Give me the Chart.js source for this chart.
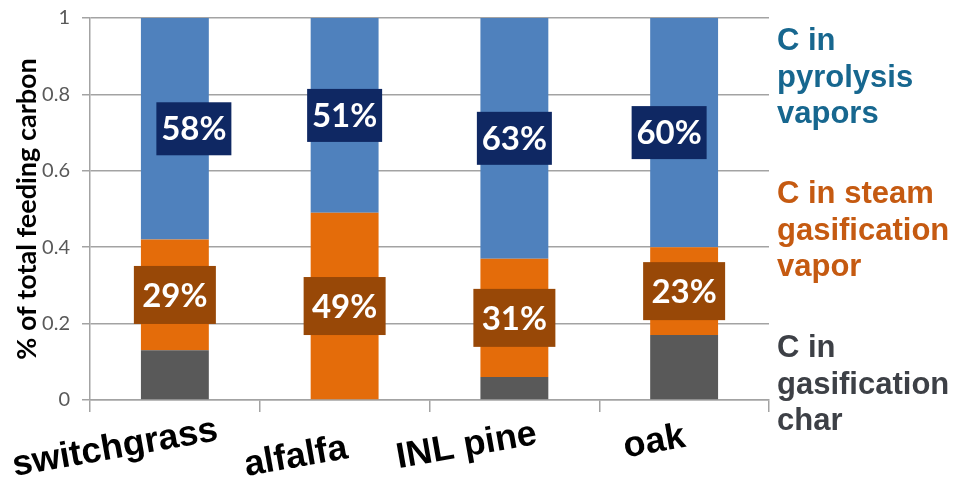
<!DOCTYPE html>
<html>
<head>
<meta charset="utf-8">
<script src="https://cdn.jsdelivr.net/npm/chart.js@4.4.1/dist/chart.umd.min.js"></script>
<style>
  html, body { margin: 0; padding: 0; background: #fff; }
  canvas { display: block; }
</style>
</head>
<body>
<canvas id="carbonChart" width="957" height="480"></canvas>
<script>
// Feedstocks on the x axis
const feedstocks = ['switchgrass', 'alfalfa', 'INL pine', 'oak'];

// Fraction of feed carbon in each product, stacked bottom to top
const charCarbon = [0.13, 0, 0.06, 0.17];
const steamCarbon = [0.29, 0.49, 0.31, 0.23];
const pyrolysisCarbon = [0.58, 0.51, 0.63, 0.60];

const yTicks = [0, 0.2, 0.4, 0.6, 0.8, 1];
const yTickLabels = ['0', '0.2', '0.4', '0.6', '0.8', '1'];

// Text blocks for the legend on the right
const pyrolysisName = ['C in', 'pyrolysis', 'vapors'];
const steamName = ['C in steam', 'gasification', 'vapor'];
const charName = ['C in', 'gasification', 'char'];

const GRID = '#a3a3a3';

// Legend placement: first baseline, colour
const legendBlocks = [
  { lines: pyrolysisName, y: 50, color: '#17678f' },
  { lines: steamName, y: 203, color: '#c55a11' },
  { lines: charName, y: 357, color: '#3d4046' }
];

// Percent boxes on the bars
const boxStyle = {
  'pyrolysis': { fill: '#0f2863', w: 75, h: 53, shift: [19, 0, 0, -15] },
  'steam': { fill: '#984807', w: 82, h: 58, shift: [0, 0, 0, 0] }
};

// Hand nudges for the slanted category names (dx from bar centre, baseline y)
const nameNudge = [
  { dx: -58, y: 458 },
  { dx: -47, y: 467 },
  { dx: -46, y: 456 },
  { dx: -28, y: 452 }
];

const valueBoxes = {
  id: 'valueBoxes',
  afterDatasetsDraw(chart) {
    const ctx = chart.ctx;
    chart.data.datasets.forEach((ds, di) => {
      const style = boxStyle[ds.label];
      if (!style) return;
      chart.getDatasetMeta(di).data.forEach((bar, i) => {
        const v = ds.data[i];
        if (!v) return;
        const cx = bar.x + style.shift[i];
        const cy = (bar.y + bar.base) / 2;
        ctx.save();
        ctx.fillStyle = style.fill;
        ctx.fillRect(cx - style.w / 2, cy - style.h / 2, style.w, style.h);
        ctx.fillStyle = '#ffffff';
        ctx.font = 'bold 33px Lato';
        ctx.textAlign = 'center';
        ctx.textBaseline = 'middle';
        ctx.fillText(Math.round(v * 100) + '%', cx, cy + 1);
        ctx.restore();
      });
    });
  }
};

const sideText = {
  id: 'sideText',
  afterDraw(chart) {
    const ctx = chart.ctx;
    const xScale = chart.scales.x;
    ctx.save();

    // slanted category names under the axis
    ctx.font = 'bold 36px "Liberation Sans", Arial, sans-serif';
    ctx.fillStyle = '#000000';
    ctx.textAlign = 'center';
    ctx.textBaseline = 'alphabetic';
    feedstocks.forEach((name, i) => {
      const x = xScale.getPixelForValue(i) + nameNudge[i].dx;
      ctx.save();
      ctx.translate(x, nameNudge[i].y);
      ctx.rotate(-10 * Math.PI / 180);
      ctx.fillText(name, 0, 0);
      ctx.restore();
    });

    // legend blocks to the right of the plot
    ctx.font = 'bold 31px "Liberation Sans", Arial, sans-serif';
    ctx.textAlign = 'left';
    legendBlocks.forEach(block => {
      ctx.fillStyle = block.color;
      block.lines.forEach((line, j) => {
        ctx.fillText(line, 777, block.y + j * 36.5);
      });
    });
    ctx.restore();
  }
};

new Chart(document.getElementById('carbonChart'), {
  type: 'bar',
  data: {
    labels: feedstocks,
    datasets: [
      {
        label: 'char',
        data: charCarbon,
        backgroundColor: '#595959'
      },
      {
        label: 'steam',
        data: steamCarbon,
        backgroundColor: '#e46c0a'
      },
      {
        label: 'pyrolysis',
        data: pyrolysisCarbon,
        backgroundColor: '#4f81bd'
      }
    ]
  },
  options: {
    responsive: false,
    animation: false,
    layout: {
      padding: { top: 18, right: 188, left: 0, bottom: 0 }
    },
    datasets: {
      bar: { barPercentage: 0.4, categoryPercentage: 1.0 }
    },
    plugins: {
      legend: { display: false },
      tooltip: { enabled: false }
    },
    scales: {
      x: {
        stacked: true,
        afterFit: s => { s.height = 80; },
        grid: {
          drawOnChartArea: false,
          color: GRID,
          lineWidth: 1.5,
          tickLength: 12
        },
        border: { color: GRID, width: 1.5 },
        ticks: { display: false }
      },
      y: {
        stacked: true,
        min: 0,
        max: 1,
        afterFit: s => {
          s.width = 90;
          s.paddingTop = 0;
          s.paddingBottom = 0;
        },
        afterBuildTicks: s => { s.ticks = yTicks.map(v => ({ value: v })); },
        grid: {
          color: GRID,
          lineWidth: 1.5,
          tickLength: 8
        },
        border: { color: GRID, width: 1.5 },
        ticks: {
          padding: 12,
          color: '#595959',
          font: { family: 'Lato', size: 20 },
          callback: (value, index) => yTickLabels[index]
        },
        title: {
          display: true,
          text: '% of total feeding carbon',
          color: '#000000',
          padding: { top: 11, bottom: 0 },
          font: { family: 'Lato', size: 27, weight: 'bold' }
        }
      }
    }
  },
  plugins: [valueBoxes, sideText]
});
</script>
</body>
</html>
